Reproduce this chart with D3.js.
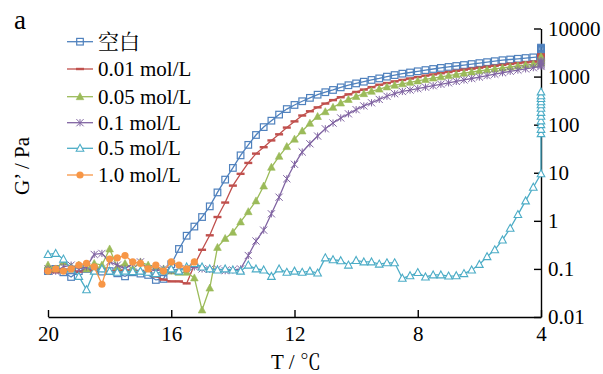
<!DOCTYPE html>
<html>
<head>
<meta charset="utf-8">
<script src="https://cdn.jsdelivr.net/npm/d3@7/dist/d3.min.js"></script>
<style>
  body { margin: 0; background: #fff; }
  svg { display: block; }
  svg text { fill: #000; }
</style>
</head>
<body>
<svg id="chart" width="603" height="374"></svg>
<script>
// Temperature sweep (°C), cooling from 20 to 4
const temps = [20, 19.75, 19.5, 19.25, 19, 18.75, 18.5, 18.25, 18, 17.75, 17.5, 17.25, 17, 16.75, 16.5, 16.25,
  16, 15.75, 15.5, 15.25, 15, 14.75, 14.5, 14.25, 14, 13.75, 13.5, 13.25, 13, 12.75, 12.5, 12.25,
  12, 11.75, 11.5, 11.25, 11, 10.75, 10.5, 10.25, 10, 9.75, 9.5, 9.25, 9, 8.75, 8.5, 8.25,
  8, 7.75, 7.5, 7.25, 7, 6.75, 6.5, 6.25, 6, 5.75, 5.5, 5.25, 5, 4.75, 4.5, 4.25, 4];

// Storage modulus G' (Pa) for each salt concentration
const blank = [0.09, 0.1, 0.085, 0.068, 0.09, 0.1, 0.095, 0.088, 0.09, 0.081, 0.07, 0.085, 0.08, 0.075, 0.059,
  0.062, 0.125, 0.26, 0.49, 0.76, 1.2, 2.0, 3.9, 7.2, 12.6, 23, 38, 61, 89, 121, 162, 211, 257, 307, 361, 420,
  473, 527, 597, 661, 721, 783, 851, 916, 997, 1075, 1150, 1216, 1288, 1365, 1439, 1514, 1585, 1660, 1738,
  1820, 1905, 1995, 2090, 2190, 2265, 2345, 2430, 2510, 2600];
const c001 = [0.09, 0.085, 0.095, 0.09, 0.088, 0.092, 0.09, 0.095, 0.088, 0.09, 0.093, 0.09, 0.088, 0.085, 0.07,
  0.06, 0.055, 0.055, 0.05, 0.12, 0.25, 0.5, 1.2, 2.4, 5.4, 9.5, 16, 25, 34, 47, 63, 87, 117, 155, 190, 229,
  275, 324, 372, 427, 479, 537, 603, 676, 733, 794, 851, 912, 977, 1047, 1109, 1175, 1245, 1318, 1396,
  1462, 1531, 1603, 1679, 1758, 1841, 1905, 1972, 2042, 2113];
const c005 = [0.12, 0.1, 0.14, 0.11, 0.12, 0.1, 0.13, 0.12, 0.26, 0.11, 0.13, 0.1, 0.14, 0.12, 0.11, 0.1, 0.09, 0.085,
  0.085, 0.065, 0.014, 0.04, 0.28, 0.43, 0.58, 0.95, 1.55, 2.6, 5.3, 13, 22, 35, 50, 74, 107, 148,
  186, 229, 282, 335, 385, 442, 495, 550, 610, 661, 708, 759, 813, 871, 933, 989, 1047, 1109, 1175,
  1245, 1318, 1380, 1445, 1514, 1585, 1660, 1738, 1820, 1905];
const c01 = [0.1, 0.09, 0.11, 0.12, 0.1, 0.11, 0.2, 0.21, 0.14, 0.12, 0.1, 0.13, 0.14, 0.1, 0.09, 0.1, 0.092, 0.1,
  0.1, 0.11, 0.1, 0.098, 0.1, 0.092, 0.095, 0.1, 0.19, 0.38, 0.64, 1.4, 3.1, 7.5, 15, 27, 40, 58,
  82, 108, 138, 168, 205, 245, 285, 335, 390, 440, 490, 525, 562, 603, 646, 692, 741, 794, 851,
  912, 977, 1047, 1122, 1202, 1288, 1365, 1445, 1531, 1622];
const c05 = [0.2, 0.21, 0.16, 0.1, 0.07, 0.037, 0.09, 0.1, 0.09, 0.085, 0.09, 0.088, 0.09, 0.085, 0.08, 0.09, 0.1, 0.09,
  0.11, 0.13, 0.11, 0.1, 0.095, 0.1, 0.095, 0.09, 0.12, 0.1, 0.095, 0.07, 0.1, 0.085, 0.09, 0.085, 0.09, 0.082,
  0.17, 0.155, 0.148, 0.12, 0.15, 0.14, 0.14, 0.126, 0.134, 0.134, 0.064, 0.072, 0.084, 0.068, 0.075, 0.075,
  0.071, 0.072, 0.08, 0.095, 0.124, 0.18, 0.25, 0.40, 0.70, 1.35, 2.6, 5.0, 9.5];
const c10 = [0.09, 0.1, 0.09, 0.1, 0.12, 0.13, 0.11, 0.048, 0.16, 0.17, 0.19, 0.14, 0.13, 0.1, 0.12, 0.09, 0.14,
  0.12, 0.1, 0.14];

// Further readings taken while holding at 4 °C
const blankHold = [2800, 3000, 3200, 3400, 3600, 3800, 4000];
const c001Hold = [2250, 2400, 2550, 2700, 2900];
const c005Hold = [2000, 2150, 2300, 2450, 2600];
const c01Hold = [1700, 1800, 1900, 2000, 2150];
const c05Hold = [65, 80, 100, 120, 150, 180, 220, 260, 300, 350, 400, 480];
const c10Hold = [];

const seriesNames = ["空白", "0.01 mol/L", "0.05 mol/L", "0.1 mol/L", "0.5 mol/L", "1.0 mol/L"];
const xTicks = [20, 16, 12, 8, 4];
const yTicks = [0.01, 0.1, 1, 10, 100, 1000, 10000];
const yTickLabels = ["0.01", "0.1", "1", "10", "100", "1000", "10000"];

const series = [
  { name: seriesNames[0], values: blank, hold: blankHold, color: "#4f81bd", marker: "square" },
  { name: seriesNames[1], values: c001, hold: c001Hold, color: "#c0504d", marker: "dash" },
  { name: seriesNames[2], values: c005, hold: c005Hold, color: "#9bbb59", marker: "triFill" },
  { name: seriesNames[3], values: c01, hold: c01Hold, color: "#8064a2", marker: "star" },
  { name: seriesNames[4], values: c05, hold: c05Hold, color: "#4bacc6", marker: "triOpen" },
  { name: seriesNames[5], values: c10, hold: c10Hold, color: "#f79646", marker: "circle" }
];

const FONT = '"Liberation Serif", "Noto Serif CJK SC", "Times New Roman", serif';
const svg = d3.select("#chart");
const x = d3.scaleLinear().domain([20, 4]).range([48, 541]);
const y = d3.scaleLog().domain([0.01, 10000]).range([317, 28.5]);

// Axes
const xAxis = d3.axisBottom(x).tickValues(xTicks).tickFormat(d3.format("d"))
  .tickSizeInner(-7).tickSizeOuter(0).tickPadding(9);
const gx = svg.append("g").attr("transform", "translate(0,317)").call(xAxis)
  .attr("font-family", FONT).attr("font-size", 21);
gx.select(".domain").attr("stroke", "#000").attr("stroke-width", 1.4);
gx.selectAll(".tick line").attr("stroke", "#000").attr("stroke-width", 1.4);

const yAxis = d3.axisRight(y).tickValues(yTicks).tickFormat((d, i) => yTickLabels[i])
  .tickSizeInner(-7).tickSizeOuter(0).tickPadding(7);
const gy = svg.append("g").attr("transform", "translate(541,0)").call(yAxis)
  .attr("font-family", FONT).attr("font-size", 21);
gy.select(".domain").attr("stroke", "#000").attr("stroke-width", 1.4);
gy.selectAll(".tick line").attr("stroke", "#000").attr("stroke-width", 1.4);

// Marker shapes
function drawMarker(g, type, color, cx, cy) {
  if (type === "square") {
    g.append("rect").attr("x", cx - 3.3).attr("y", cy - 3.3).attr("width", 6.6).attr("height", 6.6)
      .attr("fill", "none").attr("stroke", color).attr("stroke-width", 1.2);
  } else if (type === "dash") {
    g.append("rect").attr("x", cx - 4).attr("y", cy - 1.2).attr("width", 8).attr("height", 2.4)
      .attr("fill", color);
  } else if (type === "triFill" || type === "triOpen") {
    const p = `M${cx},${cy - 4}L${cx + 3.8},${cy + 3}L${cx - 3.8},${cy + 3}Z`;
    g.append("path").attr("d", p)
      .attr("fill", type === "triFill" ? color : "#fff")
      .attr("stroke", color).attr("stroke-width", type === "triFill" ? 0.6 : 1.1);
  } else if (type === "star") {
    const r = 3.6;
    g.append("path")
      .attr("d", `M${cx - r},${cy - r}L${cx + r},${cy + r}M${cx - r},${cy + r}L${cx + r},${cy - r}M${cx},${cy - r}L${cx},${cy + r}`)
      .attr("stroke", color).attr("stroke-width", 1).attr("fill", "none");
  } else if (type === "circle") {
    g.append("circle").attr("cx", cx).attr("cy", cy).attr("r", 3.6).attr("fill", color);
  }
}

// Data lines and markers
const line = d3.line().x(d => x(d.t)).y(d => y(d.v));
series.forEach(s => {
  const pts = s.values.map((v, i) => ({ t: temps[i], v }))
    .concat(s.hold.map(v => ({ t: 4, v })));
  const g = svg.append("g");
  g.append("path").datum(pts).attr("d", line)
    .attr("fill", "none").attr("stroke", s.color).attr("stroke-width", 1.3);
  pts.forEach(p => drawMarker(g, s.marker, s.color, x(p.t), y(p.v)));
});

// Legend
const legendY = [41.7, 69, 96.7, 122.7, 148.3, 175];
series.forEach((s, i) => {
  const g = svg.append("g");
  g.append("line").attr("x1", 67).attr("x2", 93).attr("y1", legendY[i]).attr("y2", legendY[i])
    .attr("stroke", s.color).attr("stroke-width", 1.3);
  drawMarker(g, s.marker, s.color, 80, legendY[i]);
  g.append("text").attr("x", 98).attr("y", legendY[i]).attr("dy", "0.33em")
    .attr("font-family", FONT).attr("font-size", 21).text(s.name);
});

// Titles
svg.append("text").attr("x", 14).attr("y", 29).attr("font-family", FONT).attr("font-size", 27).text("a");
svg.append("text").attr("x", 296).attr("y", 369).attr("text-anchor", "middle")
  .attr("font-family", FONT).attr("font-size", 21).text("T / ℃");
svg.append("text").attr("transform", "translate(29,166) rotate(-90)").attr("text-anchor", "middle")
  .attr("font-family", FONT).attr("font-size", 21).text("G’ / Pa");
</script>
</body>
</html>
